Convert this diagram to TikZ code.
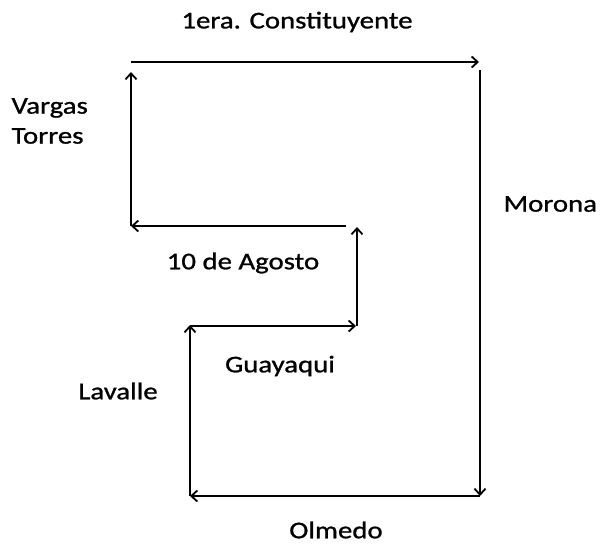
\documentclass[tikz,border=0pt]{standalone}
\usepackage{fontspec}
\setmainfont[FakeStretch=1.2, FakeBold=1]{Carlito}
\usetikzlibrary{arrows.meta}
\begin{document}
\begin{tikzpicture}[x=1pt, y=-1pt, font=\fontsize{24}{30}\selectfont, >={Straight Barb[length=6pt, width=11pt]}]
\useasboundingbox (0,0) rectangle (605,547);
\coordinate (A) at (131,62);
\coordinate (B) at (479,62);
\coordinate (C) at (480,70);
\coordinate (D) at (480,496);
\coordinate (E) at (190,496);
\coordinate (F) at (190,325);
\coordinate (G) at (190,326);
\coordinate (H) at (356,326);
\coordinate (I) at (357,326);
\coordinate (J) at (357,227);
\coordinate (K) at (346,226);
\coordinate (L) at (131,226);
\coordinate (M) at (131,72);
\node[anchor=center] (cons) at (297,22) {1era. Constituyente};
\node[anchor=west, align=left] (vargas) at (8,121) {Vargas\\Torres};
\node[anchor=west] (morona) at (500,204) {Morona};
\node[anchor=center] (agosto) at (243,263) {10 de Agosto};
\node[anchor=center] (guaya) at (280,366) {Guayaqui};
\node[anchor=center] (lava) at (118,391) {Lavalle};
\node[anchor=center] (olmedo) at (336,530) {Olmedo};
\draw [->, line width=1.8pt, draw=black] (A) -- (B);
\draw [->, line width=1.8pt, draw=black] (C) -- (D);
\draw [->, line width=1.8pt, draw=black] (D) -- (E);
\draw [->, line width=1.8pt, draw=black] (E) -- (F);
\draw [->, line width=1.8pt, draw=black] (G) -- (H);
\draw [->, line width=1.8pt, draw=black] (I) -- (J);
\draw [->, line width=1.8pt, draw=black] (K) -- (L);
\draw [->, line width=1.8pt, draw=black] (L) -- (M);
\end{tikzpicture}
\end{document}
